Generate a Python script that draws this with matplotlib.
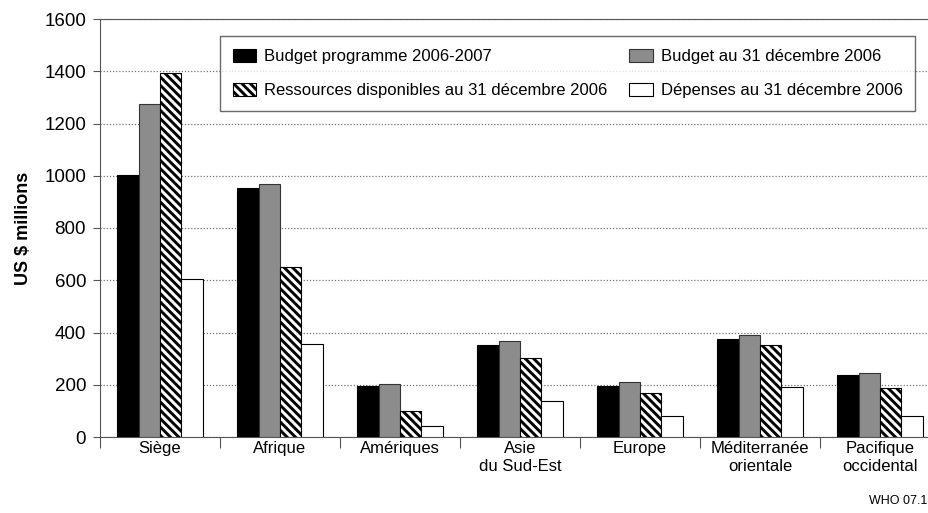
import numpy as np
import matplotlib
matplotlib.use("Agg")
import matplotlib.pyplot as plt

plt.rcParams['font.family'] = ['Liberation Sans', 'DejaVu Sans']
plt.rcParams['hatch.linewidth'] = 2.1

regions = ["Siège", "Afrique", "Amériques", "Asie\ndu Sud-Est", "Europe",
           "Méditerranée\norientale", "Pacifique\noccidental"]
budget_prog = [1003, 954, 195, 352, 195, 376, 236]
budget_dec = [1275, 967, 203, 369, 212, 390, 246]
ressources = [1394, 652, 101, 301, 167, 352, 186]
depenses = [604, 355, 43, 137, 80, 193, 80]

series_labels = ["Budget programme 2006-2007", "Budget au 31 décembre 2006",
                 "Ressources disponibles au 31 décembre 2006", "Dépenses au 31 décembre 2006"]

fig = plt.figure(figsize=(9.29, 5.13), dpi=100)
ax = fig.add_axes([100/929, 1-437/513, 840/929, 418/513])

x = np.arange(len(regions)) + 0.5
w = 0.178
offs = np.array([-1.5, -0.5, 0.5, 1.5]) * w

b1 = ax.bar(x + offs[0], budget_prog, w, color='black', edgecolor='black', linewidth=0.8, zorder=3)
b2 = ax.bar(x + offs[1], budget_dec, w, color='#8c8c8c', edgecolor='#333333', linewidth=0.8, zorder=3)
b3 = ax.bar(x + offs[2], ressources, w, color='white', edgecolor='black', hatch='\\\\\\\\', linewidth=0.8, zorder=3)
b4 = ax.bar(x + offs[3], depenses, w, color='white', edgecolor='black', linewidth=0.8, zorder=3)

ax.set_xlim(0, len(regions))
ax.set_ylim(0, 1600)
ax.set_yticks(np.arange(0, 1601, 200))
ax.yaxis.grid(True, linestyle=(0, (1, 1.5)), color='#777777', linewidth=0.9, zorder=0)
ax.set_xticks(np.arange(0, len(regions) + 1))
ax.set_xticklabels([])
ax.set_xticks(x, minor=True)
ax.set_xticklabels(regions, minor=True, fontsize=12)
ax.tick_params(axis='x', which='major', length=8, direction='out', color='#555555')
ax.tick_params(axis='x', which='minor', length=0, pad=3)
ax.tick_params(axis='y', length=5, color='#555555', labelsize=13.5, pad=5)
for s in ['left', 'top', 'bottom']:
    ax.spines[s].set_color('#555555')
ax.spines['right'].set_visible(False)

ax.set_ylabel("US $ millions", fontsize=13, fontweight='bold', labelpad=9)

leg = ax.legend([b1, b3, b2, b4],
                [series_labels[0], series_labels[2], series_labels[1], series_labels[3]],
                ncol=2, loc='upper left', bbox_to_anchor=(0.143, 0.959), borderaxespad=0,
                fontsize=12, frameon=True, fancybox=False, edgecolor='#444444',
                handlelength=1.4, handleheight=0.9, handletextpad=0.5,
                columnspacing=1.3, labelspacing=1.1, borderpad=0.75)
leg.get_frame().set_linewidth(1.0)
leg.set_zorder(5)

fig.text(0.998, 0.012, "WHO 07.1", fontsize=9, ha='right', va='bottom')

fig.savefig("out.png", dpi=100)
